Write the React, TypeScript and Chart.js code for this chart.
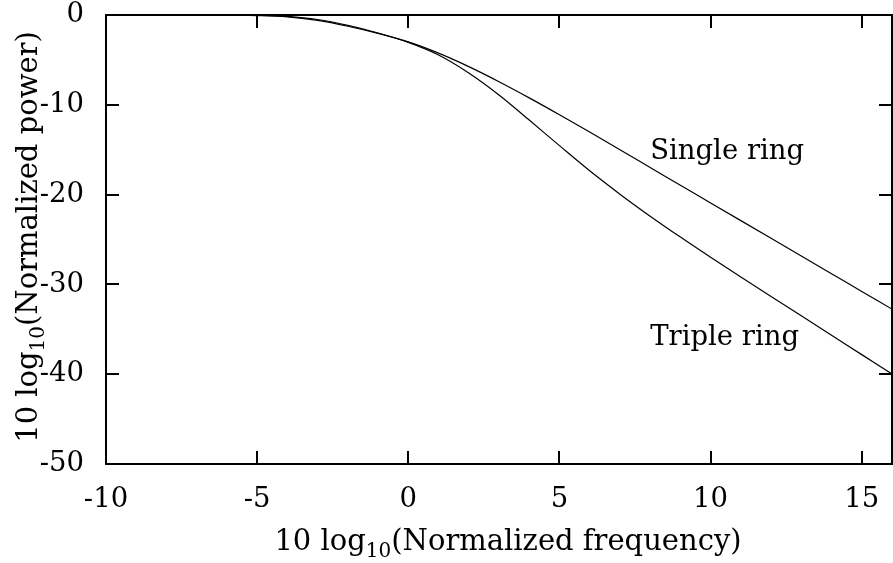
import React, { useEffect, useRef } from "react";
import { Chart, registerables } from "chart.js";

Chart.register(...registerables);

// 10 log10(normalized frequency)
const freq = [-6, -5, -4, -3, -2, -1, 0, 1, 2, 3, 4, 5, 6, 7, 8, 9, 10, 11, 12, 13, 14, 15, 16];
// 10 log10(normalized power), single ring
const singleRing = [0, -0.06, -0.2, -0.6, -1.25, -2.05, -3.0, -4.25, -5.75, -7.43, -9.23, -11.11, -13.04, -15.0, -16.98, -18.96, -20.93, -22.9, -24.87, -26.84, -28.81, -30.78, -32.75];
// 10 log10(normalized power), triple ring
const tripleRing = [0, -0.03, -0.15, -0.5, -1.15, -2.0, -3.05, -4.45, -6.45, -8.9, -11.7, -14.55, -17.35, -19.95, -22.4, -24.73, -26.98, -29.18, -31.34, -33.5, -35.66, -37.82, -39.98];

const xTicks = [-10, -5, 0, 5, 10, 15];
const yTicks = [0, -10, -20, -30, -40, -50];

const labels = [
  { text: "Single ring", x: 8, y: -16 },
  { text: "Triple ring", x: 8, y: -36.7 },
];

const FAMILY = "'DejaVu Serif', serif";
const SIZE = 27.5;
const TSIZE = 29;
const SUB = 20;

function drawSubTitle(ctx: CanvasRenderingContext2D, parts: { t: string; sub?: boolean }[], cx: number, cy: number) {
  let total = 0;
  const widths = parts.map((p) => {
    ctx.font = `${p.sub ? SUB : TSIZE}px ${FAMILY}`;
    const w = ctx.measureText(p.t).width;
    total += w;
    return w;
  });
  let x = cx - total / 2;
  parts.forEach((p, i) => {
    ctx.font = `${p.sub ? SUB : TSIZE}px ${FAMILY}`;
    ctx.fillText(p.t, x, cy + (p.sub ? 7 : 0));
    x += widths[i];
  });
}

const framePlugin = {
  id: "frameAndText",
  afterDraw(chart: any) {
    const { ctx, chartArea } = chart;
    const { left, right, top, bottom } = chartArea;
    const xs = chart.scales.x;
    const ys = chart.scales.y;
    ctx.save();
    ctx.strokeStyle = "#000";
    ctx.lineWidth = 2;
    ctx.strokeRect(left, top, right - left, bottom - top);
    const tl = 13;
    ctx.beginPath();
    xTicks.forEach((v) => {
      const px = Math.round(xs.getPixelForValue(v));
      ctx.moveTo(px, bottom);
      ctx.lineTo(px, bottom - tl);
      ctx.moveTo(px, top);
      ctx.lineTo(px, top + tl);
    });
    yTicks.forEach((v) => {
      const py = Math.round(ys.getPixelForValue(v));
      ctx.moveTo(left, py);
      ctx.lineTo(left + tl, py);
      ctx.moveTo(right, py);
      ctx.lineTo(right - tl, py);
    });
    ctx.stroke();

    ctx.fillStyle = "#000";
    ctx.textBaseline = "alphabetic";
    ctx.textAlign = "left";
    ctx.font = `${SIZE}px ${FAMILY}`;
    labels.forEach((l) => {
      ctx.fillText(l.text, xs.getPixelForValue(l.x), ys.getPixelForValue(l.y));
    });

    // x title
    drawSubTitle(
      ctx,
      [{ t: "10 log" }, { t: "10", sub: true }, { t: "(Normalized frequency)" }],
      508,
      550
    );
    // y title
    ctx.save();
    ctx.translate(37, 237);
    ctx.rotate(-Math.PI / 2);
    drawSubTitle(ctx, [{ t: "10 log" }, { t: "10", sub: true }, { t: "(Normalized power)" }], 0, 0);
    ctx.restore();
    ctx.restore();
  },
};

export default function App() {
  const ref = useRef<HTMLCanvasElement>(null);
  useEffect(() => {
    if (!ref.current) return;
    const mk = (arr: number[]) => freq.map((f, i) => ({ x: f, y: arr[i] }));
    const chart = new Chart(ref.current, {
      type: "line",
      data: {
        datasets: [
          {
            label: "Single ring",
            data: mk(singleRing),
            borderColor: "#000",
            borderWidth: 1.2,
            pointRadius: 0,
            cubicInterpolationMode: "monotone",
            fill: false,
          },
          {
            label: "Triple ring",
            data: mk(tripleRing),
            borderColor: "#000",
            borderWidth: 1.2,
            pointRadius: 0,
            cubicInterpolationMode: "monotone",
            fill: false,
          },
        ],
      },
      options: {
        animation: false,
        responsive: false,
        devicePixelRatio: 1,
        layout: { padding: { top: 15, right: 1, left: 0, bottom: 0 } },
        plugins: { legend: { display: false }, tooltip: { enabled: false } },
        scales: {
          x: {
            type: "linear",
            min: -10,
            max: 16,
            grid: { display: false },
            border: { display: false },
            ticks: {
              stepSize: 5,
              includeBounds: false,
              maxRotation: 0,
              padding: 11,
              color: "#000",
              font: { family: FAMILY, size: SIZE },
            },
            afterFit: (s: any) => {
              s.height = 99;
              s.paddingLeft = 0;
              s.paddingRight = 0;
            },
          },
          y: {
            type: "linear",
            min: -50,
            max: 0,
            grid: { display: false },
            border: { display: false },
            ticks: {
              stepSize: 10,
              includeBounds: false,
              padding: 14,
              color: "#000",
              font: { family: FAMILY, size: SIZE },
            },
            afterFit: (s: any) => {
              s.width = 106;
              s.paddingTop = 0;
              s.paddingBottom = 0;
            },
          },
        },
      },
      plugins: [framePlugin],
    });
    return () => chart.destroy();
  }, []);
  return (
    <div style={{ position: "fixed", left: 0, top: 0, width: 893, height: 563, background: "#fff" }}>
      <canvas ref={ref} width={893} height={563} />
    </div>
  );
}
